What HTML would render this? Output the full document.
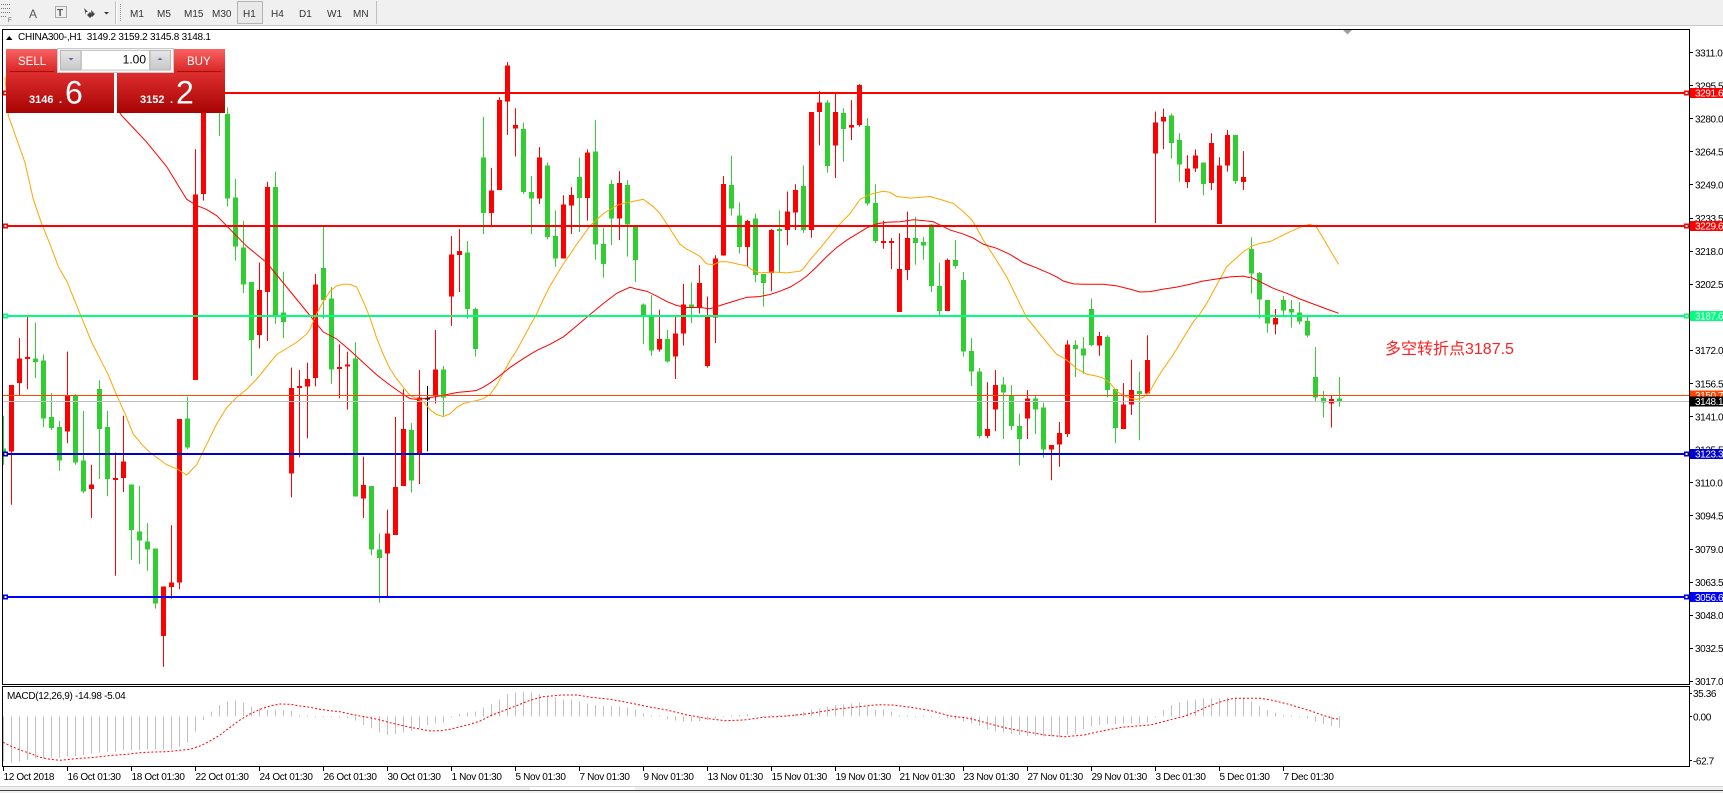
<!DOCTYPE html>
<html><head><meta charset="utf-8">
<style>
html,body{margin:0;padding:0;background:#fff;width:1723px;height:793px;overflow:hidden}
svg{display:block}
text{font-family:"Liberation Sans",sans-serif}
</style></head><body>
<svg xmlns="http://www.w3.org/2000/svg" width="1723" height="793" viewBox="0 0 1723 793">
<defs>
<clipPath id="cm"><rect x="3" y="30" width="1686" height="654"/></clipPath>
<clipPath id="cd"><rect x="3" y="687" width="1686" height="79"/></clipPath>
<linearGradient id="gh" x1="0" y1="0" x2="0" y2="1"><stop offset="0" stop-color="#f96262"/><stop offset="1" stop-color="#d82424"/></linearGradient>
<linearGradient id="gp" x1="0" y1="0" x2="0" y2="1"><stop offset="0" stop-color="#de2e2e"/><stop offset="1" stop-color="#a80303"/></linearGradient>
<linearGradient id="gbtn" x1="0" y1="0" x2="0" y2="1"><stop offset="0" stop-color="#e6e6e6"/><stop offset="1" stop-color="#c8c8c8"/></linearGradient>
</defs>

<!-- toolbar -->
<rect x="0" y="0" width="1723" height="25" fill="#f0f0f0"/>
<rect x="0" y="25" width="1723" height="1" fill="#c8c8c8"/>
<g fill="#777">
<rect x="1" y="4" width="1" height="1"/><rect x="3" y="4" width="1" height="1"/><rect x="5" y="4" width="1" height="1"/><rect x="7" y="4" width="1" height="1"/><rect x="9" y="4" width="1" height="1"/>
<rect x="1" y="8" width="1" height="1"/><rect x="3" y="8" width="1" height="1"/><rect x="5" y="8" width="1" height="1"/><rect x="7" y="8" width="1" height="1"/><rect x="9" y="8" width="1" height="1"/>
<rect x="1" y="12" width="1" height="1"/><rect x="3" y="12" width="1" height="1"/><rect x="5" y="12" width="1" height="1"/><rect x="7" y="12" width="1" height="1"/><rect x="9" y="12" width="1" height="1"/>
<rect x="1" y="16" width="1" height="1"/><rect x="3" y="16" width="1" height="1"/><rect x="5" y="16" width="1" height="1"/>
</g>
<text x="8" y="22" font-size="6" fill="#555">F</text>
<text x="29" y="18" font-size="12" fill="#555">A</text>
<rect x="55.5" y="6.5" width="11" height="11" fill="none" stroke="#666" stroke-dasharray="1 1"/>
<text x="57" y="16" font-size="10" font-weight="bold" fill="#555">T</text>
<path d="M84 8 L88 12 L86 12 L86 15 Z M91 10 L95 14 L92 17 Z M87 15 L90 12 L93 15 L90 18Z" fill="#444"/>
<polygon points="104,12 109,12 106.5,14.5" fill="#333"/>
<rect x="115" y="1" width="1" height="23" fill="#c0c0c0"/>
<rect x="116" y="1" width="1" height="23" fill="#fff"/>
<g fill="#999"><rect x="120" y="4" width="1" height="1"/><rect x="120" y="6" width="1" height="1"/><rect x="120" y="8" width="1" height="1"/><rect x="120" y="10" width="1" height="1"/><rect x="120" y="12" width="1" height="1"/><rect x="120" y="14" width="1" height="1"/><rect x="120" y="16" width="1" height="1"/><rect x="120" y="18" width="1" height="1"/><rect x="120" y="20" width="1" height="1"/></g>
<rect x="237.5" y="1.5" width="25" height="22" fill="#e9e9e9" stroke="#b4b4b4"/>
<g font-size="10" fill="#333">
<text x="130" y="17">M1</text><text x="157" y="17">M5</text><text x="184" y="17">M15</text><text x="212" y="17">M30</text>
<text x="243" y="17">H1</text><text x="271" y="17">H4</text><text x="299" y="17">D1</text><text x="327" y="17">W1</text><text x="353" y="17">MN</text>
</g>
<rect x="376" y="1" width="1" height="23" fill="#c0c0c0"/>

<!-- frames -->
<rect x="2.5" y="29.5" width="1687" height="655" fill="#fff" stroke="#000"/>
<rect x="2.5" y="686.5" width="1687" height="80" fill="#fff" stroke="#000"/>

<!-- candles -->
<g clip-path="url(#cm)" shape-rendering="crispEdges">
<g transform="translate(0,36) scale(1,0.40833)">
<path fill="none" stroke="#ff0000" stroke-width="1" d="M11.5 855V1148M19.5 740V880M27.5 688V865M67.5 773V997M91.5 1050V1180M115.5 1020V1322M123.5 930V1117M163.5 1348V1545M171.5 1198V1378M179.5 938V1355M195.5 277V842M203.5 80V403M259.5 555V765M267.5 357V747M291.5 812V1130M299.5 818V1032M307.5 800V985M315.5 583V858M339.5 755V887M347.5 773V915M363.5 1030V1180M387.5 1160V1372M395.5 933V1222M403.5 865V1102M419.5 818V1097M435.5 720V900M451.5 490V710M459.5 473V627M491.5 323V465M499.5 150V377M507.5 64V242M515.5 177V295M539.5 272V411M563.5 390V545M571.5 370V485M587.5 278V452M619.5 331V500M659.5 670V773M675.5 685V840M683.5 607V758M699.5 561V680M707.5 638V812M715.5 537V752M723.5 343V538M747.5 450V565M771.5 473V625M787.5 381V512M795.5 363V475M811.5 186V494M819.5 135V268M835.5 140V348M851.5 157V255M859.5 118V222M883.5 452V521M891.5 495V571M899.5 483V676M907.5 430V598M947.5 545V673M987.5 848V985M995.5 818V968M1027.5 867V987M1051.5 1002V1088M1059.5 945V1055M1067.5 745V982M1099.5 725V783M1123.5 850V963M1131.5 793V928M1147.5 733V875M1155.5 185V458M1163.5 178V277M1187.5 292V372M1195.5 278V333M1211.5 238V377M1219.5 297V460M1227.5 230V332M1243.5 282V377"/>
<path fill="none" stroke="#32cd32" stroke-width="1" d="M3.5 930V1050M35.5 702V838M43.5 780V958M51.5 875V965M59.5 943V1065M75.5 877V1050M83.5 918V1120M99.5 843V1085M107.5 918V1127M131.5 1098V1283M139.5 1102V1293M147.5 1193V1310M155.5 1255V1402M187.5 883V1012M219.5 90V245M227.5 175V418M235.5 350V550M243.5 452V630M251.5 603V832M275.5 332V705M283.5 577V740M323.5 463V692M331.5 615V852M355.5 750V1128M371.5 1102V1272M379.5 1218V1388M411.5 948V1118M443.5 808V930M467.5 502V692M475.5 665V785M483.5 198V485M523.5 212V387M531.5 343V485M547.5 310V498M555.5 427V565M579.5 298V480M595.5 206V548M603.5 470V592M611.5 353V512M627.5 353V540M635.5 463V602M643.5 655V755M651.5 635V783M667.5 720V800M691.5 603V703M731.5 293V440M739.5 407V533M755.5 435V603M763.5 583V663M779.5 427V578M803.5 317V482M827.5 157V335M843.5 177V308M867.5 201V415M875.5 363V507M915.5 443V560M923.5 492V548M931.5 460V627M939.5 555V686M955.5 500V570M963.5 578V785M971.5 740V857M979.5 813V985M1003.5 835V987M1011.5 855V965M1019.5 925V1052M1035.5 880V975M1043.5 898V1033M1075.5 745V835M1083.5 737V827M1091.5 643V760M1107.5 733V885M1115.5 865V997M1139.5 822V990M1171.5 190V300M1179.5 238V357M1203.5 310V390M1235.5 243V362"/>
<path fill="none" stroke="#000" stroke-width="1" d="M427.5 857V1017"/>
<path fill="none" stroke="#ff0000" stroke-width="5" d="M11.5 855V1018M19.5 790V850M27.5 786V791M67.5 882V968M91.5 1098V1110M115.5 1082V1087M123.5 1042V1082M163.5 1348V1470M171.5 1338V1350M179.5 938V1338M195.5 388V842M203.5 100V387M259.5 622V732M267.5 370V627M291.5 862V1072M299.5 857V862M307.5 840V858M315.5 608V837M339.5 811V815M347.5 805V810M363.5 1100V1133M387.5 1218V1267M395.5 1105V1222M403.5 963V1102M419.5 885V1023M435.5 817V882M451.5 535V638M459.5 527V536M491.5 378V433M499.5 157V377M507.5 72V160M515.5 218V227M539.5 297V398M563.5 413V545M571.5 390V415M587.5 285V397M619.5 360V447M659.5 742V768M675.5 728V785M683.5 657V728M699.5 605V665M707.5 685V808M715.5 545V690M723.5 363V538M747.5 453V517M771.5 475V580M787.5 430V475M795.5 377V432M811.5 186V475M819.5 163V186M835.5 186V268M851.5 218V224M859.5 120V218M883.5 502V507M891.5 502V507M899.5 571V676M907.5 495V573M947.5 548V673M987.5 963V980M995.5 855V915M1027.5 888V937M1051.5 1002V1013M1059.5 972V1000M1067.5 755V975M1099.5 735V758M1123.5 902V963M1131.5 867V903M1147.5 793V875M1155.5 212V288M1163.5 198V210M1187.5 325V357M1195.5 293V325M1211.5 262V360M1219.5 317V460M1227.5 243V317M1243.5 345V357"/>
<path fill="none" stroke="#32cd32" stroke-width="5" d="M3.5 1010V1025M35.5 790V798M43.5 795V937M51.5 933V960M59.5 958V1040M75.5 880V1045M83.5 1040V1115M99.5 865V962M107.5 958V1085M131.5 1098V1210M139.5 1213V1235M147.5 1238V1258M155.5 1255V1390M187.5 937V1008M219.5 100V185M227.5 191V398M235.5 395V515M243.5 518V608M251.5 603V745M275.5 370V685M283.5 677V700M323.5 568V647M331.5 643V817M355.5 790V1128M371.5 1102V1257M379.5 1257V1278M411.5 965V1088M443.5 817V885M467.5 530V668M475.5 668V767M483.5 297V433M523.5 228V382M531.5 382V398M547.5 317V492M555.5 490V545M579.5 345V397M595.5 283V511M603.5 510V558M611.5 363V447M627.5 365V462M635.5 463V548M643.5 657V686M651.5 686V770M667.5 742V797M691.5 658V665M731.5 365V423M739.5 440V517M755.5 447V585M763.5 583V605M779.5 473V477M803.5 367V475M827.5 163V318M843.5 188V228M867.5 220V410M875.5 409V502M915.5 495V507M923.5 505V513M931.5 462V612M939.5 612V673M955.5 548V563M963.5 598V773M971.5 772V822M979.5 822V980M1003.5 853V873M1011.5 880V955M1019.5 955V987M1035.5 888V915M1043.5 910V1013M1075.5 757V767M1083.5 765V782M1091.5 668V757M1107.5 737V867M1115.5 865V960M1139.5 870V877M1171.5 195V262M1179.5 255V315M1203.5 310V362M1235.5 243V355"/>
<path fill="none" stroke="#000" stroke-width="5" d="M427.5 887V890"/>
</g>
<g transform="translate(0,180) scale(1,0.33333)">
<path fill="none" stroke="#32cd32" stroke-width="1" d="M1251.5 172V341M1259.5 276V415M1267.5 360V458M1283.5 348V407M1291.5 360V443M1299.5 366V433M1307.5 408V472M1315.5 501V663M1323.5 633V713M1339.5 591V680"/>
<path fill="none" stroke="#ff0000" stroke-width="1" d="M1275.5 387V463M1331.5 647V743"/>
<path fill="none" stroke="#32cd32" stroke-width="5" d="M1251.5 207V281M1259.5 279V359M1267.5 360V431M1283.5 360V392M1291.5 387V398M1299.5 397V425M1307.5 423V467M1315.5 591V653M1323.5 654V668M1339.5 655V665"/>
<path fill="none" stroke="#ff0000" stroke-width="5" d="M1275.5 414V433M1331.5 657V671"/>
</g>
</g>

<!-- moving averages -->
<g clip-path="url(#cm)" fill="none">
<g transform="translate(0,36) scale(1,0.40833)">
<polyline vector-effect="non-scaling-stroke" stroke="#ffa500" stroke-width="1" points="5,100 8.3,195 25,310 33.3,400 41.7,460 50,510 58.3,565 66.7,600 75,650 83.3,700 91.7,750 100,790 108.3,830 116.7,880 125,925 133.3,975 141.7,1000 150,1020 166.7,1050 176.7,1060 186.7,1075 196.7,1050 206.7,1000 216.7,950 226.7,910 236.7,885 246.7,865 256.7,840 266.7,810 276.7,780 286.7,765 296.7,750 306.7,730 310,718 316.7,680 323.3,650 330,625 336.7,612 343.3,608 350,608 356.7,615 363.3,650 370,690 376.7,740 383.3,780 390,815 396.7,840 403.3,860 410,880 416.7,888 423.3,895 430,915 436.7,927 443.3,932 450,925 456.7,910 463.3,900 470,896 476.7,893 483.3,888 490,878 496.7,855 503.3,825 510,795 516.7,770 523.3,740 530,710 536.7,680 543.3,645 550,612 556.7,585 563.3,558 570,535 576.7,510 583.3,488 590,465 596.7,450 603.3,435 610,425 616.7,415 623.3,410 633.3,405 643.3,400 653.3,418 660,435 666.7,460 673.3,485 680,510 686.7,522 693.3,530 700,540 706.7,558 713.3,560 720,553 726.7,553 733.3,556 740,560 746.7,563 753.3,575 760,580 773.3,578 786.7,580 800,576 803.3,570 810,548 820,520 830,490 840,460 850,435 860,400 870,388 883.3,380 890,383 896.7,393 910,397 930,393 940,400 953.3,410 963.3,430 971.7,450 976.7,470 983.3,500 990,525 996.7,550 1006.7,590 1016.7,640 1026.7,690 1036.7,720 1046.7,750 1056.7,780 1063.3,788 1070,800 1076.7,815 1086.7,828 1096.7,833 1103.3,838 1110,850 1116.7,870 1123.3,880 1130,887 1136.7,890 1143.3,885 1150,870 1156.7,840 1163.3,815 1173.3,780 1183.3,740 1193.3,700 1200,680 1206.7,655 1213.3,625 1220,595 1226.7,565 1236.7,543 1243.3,528 1250,518"/>
<polyline vector-effect="non-scaling-stroke" stroke="#ff0000" stroke-width="1" points="110,150 121.7,195 133.3,225 146.7,260 156.7,290 166.7,320 176.7,360 186.7,400 196.7,415 206.7,425 216.7,440 226.7,465 236.7,490 246.7,515 256.7,535 266.7,555 276.7,585 286.7,615 296.7,645 306.7,675 315,700 323.3,725 336.7,742 350,770 363.3,800 376.7,830 390,855 403.3,878 410,888 416.7,890 423.3,888 436.7,883 443.3,880 456.7,873 470,870 476.7,868 483.3,860 490,850 496.7,838 503.3,825 510,812 523.3,790 536.7,770 550,755 563.3,737 576.7,710 590,682 603.3,655 616.7,630 630,615 636.7,620 646.7,625 656.7,637 666.7,650 676.7,660 686.7,665 700,665 710,668 720,660 733.3,650 746.7,640 760,638 770,633 780,625 790,615 800,600 806.7,588 816.7,565 826.7,540 836.7,518 846.7,500 856.7,485 866.7,470 876.7,460 886.7,456 900,455 913.3,450 923.3,452 933.3,455 940,463 950,475 963.3,485 973.3,495 983.3,510 996.7,520 1010,535 1023.3,555 1036.7,568 1050,582 1056.7,590 1063.3,600 1073.3,607 1083.3,608 1103.3,608 1116.7,612 1130,620 1140,627 1150,626 1163.3,620 1176.7,615 1190,608 1203.3,600 1216.7,595 1230,590 1243.3,588 1250,592"/>
</g>
<g transform="translate(0,180) scale(1,0.33333)">
<polyline vector-effect="non-scaling-stroke" stroke="#ffa500" stroke-width="1" points="1250,200 1260,190 1270,185 1280,170 1290,155 1300,142 1306.7,135 1310,133 1316.7,142 1323.3,175 1330,210 1338.7,253"/>
<polyline vector-effect="non-scaling-stroke" stroke="#ff0000" stroke-width="1" points="1250,290 1260,305 1273.3,325 1286.7,340 1300,357 1313.3,372 1326.7,387 1338.7,400"/>
</g>
</g>

<!-- horizontal levels -->
<g shape-rendering="crispEdges">
<rect x="3" y="92" width="1686" height="2" fill="#ff0000"/>
<rect x="3" y="225" width="1686" height="2" fill="#ff0000"/>
<rect x="3" y="315" width="1686" height="2" fill="#00ff7f"/>
<rect x="3" y="395" width="1686" height="1" fill="#ff4500"/>
<rect x="3" y="401" width="1686" height="1" fill="#c0c0c0"/>
<rect x="3" y="453" width="1686" height="2" fill="#0000cd"/>
<rect x="3" y="596" width="1686" height="2" fill="#0000ff"/>
<rect x="1684" y="90.5" width="5" height="5" fill="#ff0000"/><rect x="1685.5" y="92" width="2" height="2" fill="#fff"/>
<rect x="1684" y="223.5" width="5" height="5" fill="#ff0000"/><rect x="1685.5" y="225" width="2" height="2" fill="#fff"/>
<rect x="1684" y="313.5" width="5" height="5" fill="#00ff7f"/><rect x="1685.5" y="315" width="2" height="2" fill="#fff"/>
<rect x="1684" y="451.5" width="5" height="5" fill="#0000cd"/><rect x="1685.5" y="453" width="2" height="2" fill="#fff"/>
<rect x="1684" y="594.5" width="5" height="5" fill="#0000ff"/><rect x="1685.5" y="596" width="2" height="2" fill="#fff"/>
<rect x="3" y="90.5" width="5" height="5" fill="#ff0000"/><rect x="4.5" y="92" width="2" height="2" fill="#fff"/>
<rect x="3" y="223.5" width="5" height="5" fill="#ff0000"/><rect x="4.5" y="225" width="2" height="2" fill="#fff"/>
<rect x="3" y="313.5" width="5" height="5" fill="#00ff7f"/><rect x="4.5" y="315" width="2" height="2" fill="#fff"/>
<rect x="3" y="451.5" width="5" height="5" fill="#0000cd"/><rect x="4.5" y="453" width="2" height="2" fill="#fff"/>
<rect x="3" y="594.5" width="5" height="5" fill="#0000ff"/><rect x="4.5" y="596" width="2" height="2" fill="#fff"/>
</g>

<polygon points="1343,30 1352,30 1347.5,34.5" fill="#a0a0a0"/>

<!-- title -->
<polygon points="6,40 12.5,40 9.25,36" fill="#000"/>
<text x="18" y="40" font-size="10" letter-spacing="-0.25" fill="#000" xml:space="preserve">CHINA300-,H1  3149.2 3159.2 3145.8 3148.1</text>

<!-- annotation -->
<text x="1385" y="354" font-size="16" fill="#ff2020" style="font-family:'Liberation Sans','Noto Sans CJK SC',sans-serif">多空转折点3187.5</text>

<!-- one click panel -->
<rect x="6" y="49" width="52" height="23.5" fill="url(#gh)"/>
<rect x="10" y="71" width="44" height="1" fill="#a81010"/>
<text x="18" y="65" font-size="11.5" fill="#fff">SELL</text>
<rect x="6" y="72.5" width="108" height="40.5" fill="url(#gp)"/>
<rect x="114" y="72.5" width="3" height="40.5" fill="#fff"/>
<text x="29" y="103" font-size="11" font-weight="bold" fill="#fff">3146</text>
<text x="59" y="103" font-size="11" font-weight="bold" fill="#fff">.</text>
<text x="65" y="103.5" font-size="32" fill="#fff">6</text>
<rect x="174" y="49" width="51" height="23.5" fill="url(#gh)"/>
<rect x="177" y="71" width="44" height="1" fill="#a81010"/>
<text x="187" y="65" font-size="11.5" fill="#fff">BUY</text>
<rect x="117" y="72.5" width="108" height="40.5" fill="url(#gp)"/>
<text x="140" y="103" font-size="11" font-weight="bold" fill="#fff">3152</text>
<text x="170" y="103" font-size="11" font-weight="bold" fill="#fff">.</text>
<text x="176" y="103.5" font-size="32" fill="#fff">2</text>
<rect x="57.5" y="48.5" width="116" height="24" fill="#f4f4f4" stroke="#c8c8c8"/>
<rect x="60.5" y="50.5" width="20.5" height="19.5" fill="url(#gbtn)" stroke="#b8b8b8"/>
<rect x="81.5" y="50.5" width="68" height="19.5" fill="#fff" stroke="#c8c8c8"/>
<rect x="150" y="50.5" width="20.5" height="19.5" fill="url(#gbtn)" stroke="#b8b8b8"/>
<polygon points="68.5,58 73.5,58 71,60.5" fill="#5a6ab0"/>
<polygon points="157.5,60 162.5,60 160,57.5" fill="#5a6ab0"/>
<text x="146" y="63.5" font-size="12" text-anchor="end" fill="#000">1.00</text>

<!-- price axis -->
<g shape-rendering="crispEdges" fill="#000">
<rect x="1689" y="52" width="4" height="1"/><rect x="1689" y="85" width="4" height="1"/><rect x="1689" y="118" width="4" height="1"/><rect x="1689" y="151" width="4" height="1"/><rect x="1689" y="184" width="4" height="1"/><rect x="1689" y="218" width="4" height="1"/><rect x="1689" y="251" width="4" height="1"/><rect x="1689" y="284" width="4" height="1"/><rect x="1689" y="317" width="4" height="1"/><rect x="1689" y="350" width="4" height="1"/><rect x="1689" y="383" width="4" height="1"/><rect x="1689" y="416" width="4" height="1"/><rect x="1689" y="449" width="4" height="1"/><rect x="1689" y="482" width="4" height="1"/><rect x="1689" y="515" width="4" height="1"/><rect x="1689" y="549" width="4" height="1"/><rect x="1689" y="582" width="4" height="1"/><rect x="1689" y="615" width="4" height="1"/><rect x="1689" y="648" width="4" height="1"/><rect x="1689" y="681" width="4" height="1"/>
<rect x="1689" y="693" width="3" height="1"/><rect x="1689" y="716" width="3" height="1"/><rect x="1689" y="760" width="3" height="1"/>
</g>
<g font-size="10" letter-spacing="-0.4" fill="#000">
<text x="1695" y="56.3">3311.0</text><text x="1695" y="89.4">3295.5</text><text x="1695" y="122.5">3280.0</text><text x="1695" y="155.6">3264.5</text><text x="1695" y="188.7">3249.0</text><text x="1695" y="221.8">3233.5</text><text x="1695" y="254.9">3218.0</text><text x="1695" y="288">3202.5</text><text x="1695" y="321.1">3187.0</text><text x="1695" y="354.2">3172.0</text><text x="1695" y="387.3">3156.5</text><text x="1695" y="420.4">3141.0</text><text x="1695" y="453.5">3125.5</text><text x="1695" y="486.6">3110.0</text><text x="1695" y="519.7">3094.5</text><text x="1695" y="552.8">3079.0</text><text x="1695" y="585.9">3063.5</text><text x="1695" y="619">3048.0</text><text x="1695" y="652.1">3032.5</text><text x="1695" y="685.2">3017.0</text>
<text x="1693" y="697">35.36</text><text x="1693" y="720.3">0.00</text><text x="1693" y="764.3">-62.7</text>
</g>
<g font-size="10" letter-spacing="-0.4" fill="#fff" shape-rendering="crispEdges">
<rect x="1690" y="88" width="33" height="10" fill="#ff0000"/><text x="1695" y="96.6">3291.6</text>
<rect x="1690" y="221" width="33" height="10" fill="#ff0000"/><text x="1695" y="229.7">3229.6</text>
<rect x="1690" y="311" width="33" height="10" fill="#00ff7f"/><text x="1695" y="319.6">3187.6</text>
<rect x="1690" y="390.5" width="33" height="10" fill="#ff4500"/><text x="1695" y="399">3150.7</text>
<rect x="1690" y="396.5" width="33" height="10" fill="#000"/><text x="1695" y="405">3148.1</text>
<rect x="1690" y="449" width="33" height="10" fill="#0000cd"/><text x="1695" y="457.6">3123.3</text>
<rect x="1690" y="592" width="33" height="10" fill="#0000ff"/><text x="1695" y="600.8">3056.6</text>
</g>

<!-- MACD -->
<g clip-path="url(#cd)" shape-rendering="crispEdges">
<g transform="translate(0,610) scale(1,0.33333)">
<path fill="none" stroke="#c0c0c0" stroke-width="1" d="M3.5 319V455M11.5 319V458M19.5 319V455M27.5 319V450M35.5 319V445M43.5 319V445M51.5 319V443M59.5 319V443M67.5 319V440M75.5 319V438M83.5 319V435M91.5 319V430M99.5 319V428M107.5 319V425M115.5 319V425M123.5 319V420M131.5 319V420M139.5 319V420M147.5 319V418M155.5 319V418M163.5 319V418M171.5 319V418M179.5 319V410M187.5 319V398M195.5 319V365M203.5 319V330M211.5 319V305M219.5 319V285M227.5 319V275M235.5 319V272M243.5 319V278M251.5 319V290M259.5 319V295M267.5 319V300M275.5 319V300M283.5 319V300M291.5 319V303M299.5 319V315M307.5 319V316M315.5 319V322M323.5 319V322M331.5 319V322M339.5 319V323M347.5 319V325M355.5 319V332M363.5 319V345M371.5 319V355M379.5 319V368M387.5 319V375M395.5 319V372M403.5 319V368M411.5 319V363M419.5 319V355M427.5 319V345M435.5 319V340M443.5 319V338M451.5 319V322M459.5 319V312M467.5 319V307M475.5 319V305M483.5 319V292M491.5 319V283M499.5 319V268M507.5 319V252M515.5 319V248M523.5 319V245M531.5 319V248M539.5 319V252M547.5 319V260M555.5 319V262M563.5 319V268M571.5 319V268M579.5 319V275M587.5 319V280M595.5 319V285M603.5 319V288M611.5 319V288M619.5 319V290M627.5 319V292M635.5 319V298M643.5 319V310M651.5 319V316M659.5 319V316M667.5 319V328M675.5 319V332M683.5 319V335M691.5 319V335M699.5 319V333M707.5 319V330M715.5 319V325M723.5 319V322M731.5 319V316M739.5 319V315M747.5 319V312M755.5 319V316M763.5 319V322M771.5 319V316M779.5 319V315M787.5 319V315M795.5 319V312M803.5 319V305M811.5 319V298M819.5 319V295M827.5 319V290M835.5 319V285M843.5 319V283M851.5 319V280M859.5 319V278M867.5 319V290M875.5 319V300M883.5 319V298M891.5 319V305M899.5 319V316M907.5 319V316M915.5 319V322M923.5 319V316M931.5 319V322M939.5 319V322M947.5 319V325M955.5 319V328M963.5 319V335M971.5 319V340M979.5 319V348M987.5 319V358M995.5 319V365M1003.5 319V368M1011.5 319V372M1019.5 319V375M1027.5 319V378M1035.5 319V378M1043.5 319V380M1051.5 319V380M1059.5 319V382M1067.5 319V375M1075.5 319V370M1083.5 319V358M1091.5 319V350M1099.5 319V345M1107.5 319V342M1115.5 319V342M1123.5 319V340M1131.5 319V340M1139.5 319V340M1147.5 319V338M1155.5 319V322M1163.5 319V300M1171.5 319V285M1179.5 319V277M1187.5 319V272M1195.5 319V268M1203.5 319V265M1211.5 319V265M1219.5 319V265M1227.5 319V262M1235.5 319V265M1243.5 319V265M1251.5 319V275M1259.5 319V288M1267.5 319V300M1275.5 319V308M1283.5 319V315M1291.5 319V316M1299.5 319V322M1307.5 319V325M1315.5 319V335M1323.5 319V342M1331.5 319V348M1339.5 319V352"/>
</g>
</g>
<polyline fill="none" stroke="#ff0000" stroke-width="1" stroke-dasharray="2 2" points="3,742.3 10,745.7 20,750 30,753.3 40,757.3 50,759.3 60,760.3 70,759.3 80,758.3 90,757.7 100,756.7 113,755.3 127,754.3 140,752.7 153,752 167,751.7 180,750.3 190,749.3 200,746 210,741 220,735 230,727.3 240,720 250,714 260,709.3 270,706 280,704 290,704.3 300,706 310,707.3 320,709.3 330,710.7 340,711.7 350,714 360,716 370,717.7 380,720 390,722.7 400,725 410,727.3 420,729 430,731 440,730.7 450,729.3 460,726.7 470,724.3 480,721 490,716 500,712 514,706.7 529,700.7 543,696.7 562,695 577,695 591,697.3 610,699.3 629,702.7 648,706.7 667,710 687,715 706,718.3 725,720.7 744,720 763,717.3 787,716 811,713.3 835,709.3 859,706.7 878,704.7 892,705 911,707.3 931,710.7 950,716 969,718.3 988,723.3 1007,728.3 1026,731.7 1045,735 1065,736.7 1084,735 1103,730.7 1122,727.3 1141,725.7 1150,725 1161,722.3 1172,719.3 1183,716.7 1194,712.7 1205,707.7 1216,703.3 1223,701 1234,698.3 1245,698.3 1260,698.3 1271,700 1278,701.7 1289,704.3 1300,707.7 1311,711 1322,715 1333,718.3 1338,719"/>
<text x="7" y="699" font-size="10" letter-spacing="-0.3" fill="#000">MACD(12,26,9) -14.98 -5.04</text>

<!-- time axis -->
<g shape-rendering="crispEdges" fill="#000">
<rect x="3" y="767" width="1" height="4"/><rect x="67" y="767" width="1" height="4"/><rect x="131" y="767" width="1" height="4"/><rect x="195" y="767" width="1" height="4"/><rect x="259" y="767" width="1" height="4"/><rect x="323" y="767" width="1" height="4"/><rect x="387" y="767" width="1" height="4"/><rect x="451" y="767" width="1" height="4"/><rect x="515" y="767" width="1" height="4"/><rect x="579" y="767" width="1" height="4"/><rect x="643" y="767" width="1" height="4"/><rect x="707" y="767" width="1" height="4"/><rect x="771" y="767" width="1" height="4"/><rect x="835" y="767" width="1" height="4"/><rect x="899" y="767" width="1" height="4"/><rect x="963" y="767" width="1" height="4"/><rect x="1027" y="767" width="1" height="4"/><rect x="1091" y="767" width="1" height="4"/><rect x="1155" y="767" width="1" height="4"/><rect x="1219" y="767" width="1" height="4"/><rect x="1283" y="767" width="1" height="4"/>
</g>
<g font-size="10" letter-spacing="-0.35" fill="#000">
<text x="3.5" y="780">12 Oct 2018</text><text x="67.5" y="780">16 Oct 01:30</text><text x="131.5" y="780">18 Oct 01:30</text><text x="195.5" y="780">22 Oct 01:30</text><text x="259.5" y="780">24 Oct 01:30</text><text x="323.5" y="780">26 Oct 01:30</text><text x="387.5" y="780">30 Oct 01:30</text><text x="451.5" y="780">1 Nov 01:30</text><text x="515.5" y="780">5 Nov 01:30</text><text x="579.5" y="780">7 Nov 01:30</text><text x="643.5" y="780">9 Nov 01:30</text><text x="707.5" y="780">13 Nov 01:30</text><text x="771.5" y="780">15 Nov 01:30</text><text x="835.5" y="780">19 Nov 01:30</text><text x="899.5" y="780">21 Nov 01:30</text><text x="963.5" y="780">23 Nov 01:30</text><text x="1027.5" y="780">27 Nov 01:30</text><text x="1091.5" y="780">29 Nov 01:30</text><text x="1155.5" y="780">3 Dec 01:30</text><text x="1219.5" y="780">5 Dec 01:30</text><text x="1283.5" y="780">7 Dec 01:30</text>
</g>

<!-- bottom bar -->
<rect x="0" y="786" width="1723" height="7" fill="#f0f0f0"/>
<rect x="0" y="786" width="1723" height="1" fill="#d4d4d4"/>
<rect x="0" y="790" width="1723" height="1" fill="#404040"/>
<rect x="530" y="787" width="105" height="3" fill="#fff"/>
</svg>
</body></html>
